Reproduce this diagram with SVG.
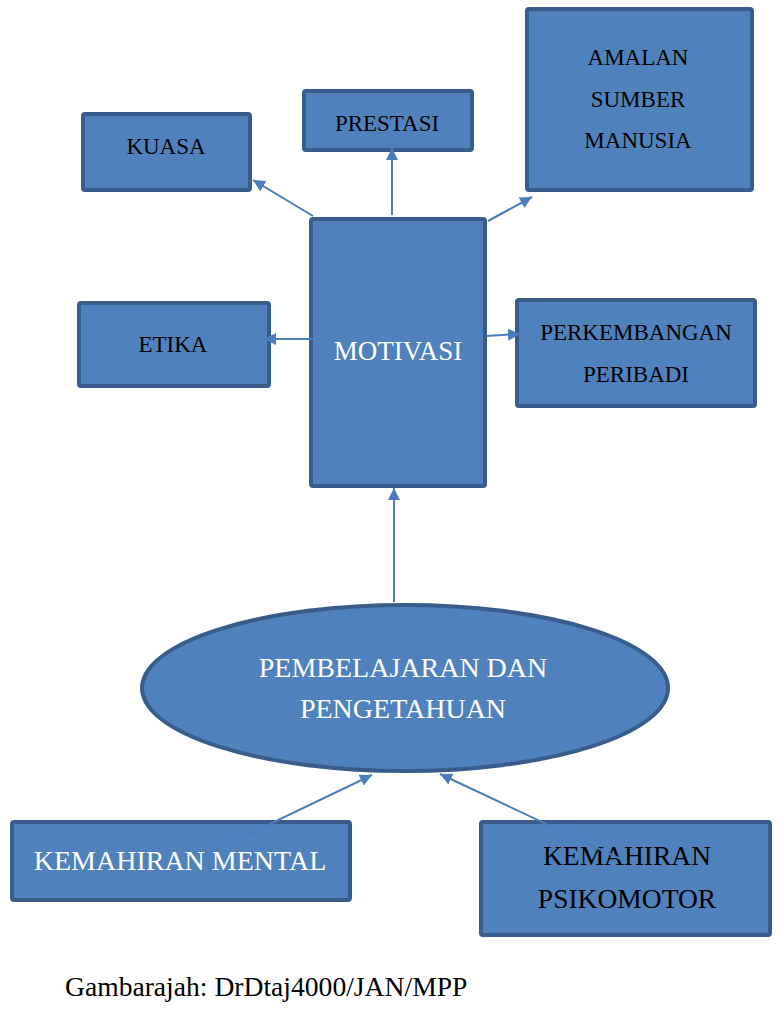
<svg xmlns="http://www.w3.org/2000/svg" width="780" height="1035" viewBox="0 0 780 1035">
<style>
.box{fill:#4f81bd;stroke:#385d8a;stroke-width:4}
.t{font-family:"Liberation Serif","Times New Roman",Tinos,"DejaVu Serif","Noto Serif",serif;text-anchor:middle;fill:#000}
.s{font-size:23px}
.w{fill:#fff}
.c{stroke:#4a7ebb;stroke-width:2;fill:none;marker-end:url(#ah)}
</style>
<defs>
<marker id="ah" markerUnits="userSpaceOnUse" markerWidth="13" markerHeight="12" refX="12" refY="6" orient="auto" viewBox="0 0 13 12">
<path d="M0,0 L12,6 L0,12 z" fill="#4a7ebb"/>
</marker>
</defs>
<rect width="780" height="1035" fill="#fff"/>
<g id="kuasa"><rect class="box" x="83" y="114" width="167" height="76" rx="2"/><text class="t s" x="166" y="154">KUASA</text></g>
<g id="prestasi"><rect class="box" x="304" y="91" width="168" height="59" rx="2"/><text class="t s" x="387" y="131">PRESTASI</text></g>
<g id="amalan"><rect class="box" x="527" y="9" width="225" height="181" rx="2"/><text class="t s" x="638" y="65">AMALAN</text><text class="t s" x="638" y="107">SUMBER</text><text class="t s" x="638" y="148">MANUSIA</text></g>
<g id="motivasi"><rect class="box" x="311" y="219" width="174" height="267" rx="2"/><text class="t w" x="398" y="360" font-size="27">MOTIVASI</text></g>
<g id="etika"><rect class="box" x="79" y="303" width="190" height="83" rx="2"/><text class="t s" x="173" y="352">ETIKA</text></g>
<g id="perkembangan"><rect class="box" x="517" y="300" width="238" height="106" rx="2"/><text class="t s" x="636" y="340">PERKEMBANGAN</text><text class="t s" x="636" y="382">PERIBADI</text></g>
<g id="pembelajaran"><ellipse class="box" cx="405" cy="688" rx="263" ry="83"/><text class="t w" x="403" y="677" font-size="28">PEMBELAJARAN DAN</text><text class="t w" x="403" y="718" font-size="28">PENGETAHUAN</text></g>
<g id="mental"><rect class="box" x="12" y="822" width="338" height="78" rx="2"/><text class="t w" x="180" y="870" font-size="28">KEMAHIRAN MENTAL</text></g>
<g id="psikomotor"><rect class="box" x="481" y="822" width="289" height="113" rx="2"/><text class="t" x="627" y="865" font-size="27.5">KEMAHIRAN</text><text class="t" x="627" y="908" font-size="27.5">PSIKOMOTOR</text></g>
<g id="connectors">
<line class="c" x1="313" y1="216" x2="253" y2="180"/>
<line class="c" x1="392" y1="215" x2="392" y2="148"/>
<line class="c" x1="488" y1="221" x2="532" y2="197"/>
<line class="c" x1="313" y1="339" x2="264" y2="339"/>
<line class="c" x1="486" y1="336" x2="520" y2="334"/>
<line class="c" x1="394" y1="602" x2="394" y2="488"/>
<line class="c" x1="205" y1="855" x2="372" y2="775" stroke="#5a8cc8"/>
<line class="c" x1="627" y1="862" x2="440" y2="774"/>
</g>
<text class="t" x="65" y="996" font-size="27.6" style="text-anchor:start">Gambarajah: DrDtaj4000/JAN/MPP</text>
</svg>
